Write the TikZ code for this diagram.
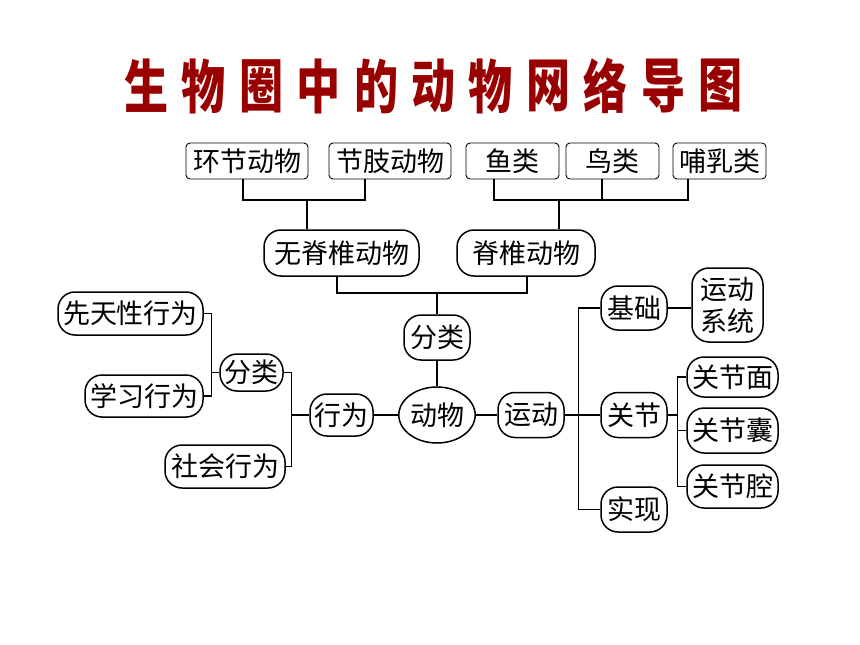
\documentclass[tikz,border=0pt]{standalone}
\usepackage{fontspec}
\usepackage{graphicx}
\setmainfont{Noto Sans CJK SC}
\usetikzlibrary{calc,shapes.geometric}
\definecolor{titlered}{HTML}{990000}

\begin{document}
\begin{tikzpicture}[x=1pt,y=-1pt,
  leaf/.style={draw,line width=0.9pt,rounded corners=4pt,inner sep=0pt,minimum height=36pt,font=\fontsize{27}{30}\selectfont},
  pill/.style={draw,line width=1.5pt,rounded corners=17pt,inner sep=0pt,minimum height=45pt,font=\fontsize{27}{32}\selectfont},
  trunk/.style={line width=2.8pt},
  link/.style={line width=1.4pt},
  titlech/.style={text=titlered,font=\fontsize{58}{58}\selectfont\bfseries,inner sep=0pt}]
  \useasboundingbox (0,0) rectangle (860,645);

  % Title
  \foreach \c [count=\i from 0] in {生,物,圈,中,的,动,物,网,络,导,图}
    \node[titlech] (t\i) at (146.6+57.4*\i,86) {\scalebox{0.76}[1]{\c}};

  % Top row
  \node[leaf,minimum width=122pt] (hj) at (247,161) {环节动物};
  \node[leaf,minimum width=122pt] (jz) at (390,161) {节肢动物};
  \node[leaf,minimum width=93pt] (yl) at (512.5,161) {鱼类};
  \node[leaf,minimum width=93pt] (nl) at (612.5,161) {鸟类};
  \node[leaf,minimum width=93pt] (br) at (719.5,161) {哺乳类};

  \node[pill,minimum width=155pt,minimum height=46pt] (wjz) at (341.5,253) {无脊椎动物};
  \node[pill,minimum width=138pt,minimum height=46pt] (zdw) at (526,253) {脊椎动物};

  % Centre
  \node[pill,minimum width=66pt] (fl) at (437,337.5) {分类};
  \node[draw,ellipse,line width=1.5pt,inner sep=0pt,minimum width=70pt,minimum height=56pt,
        font=\fontsize{27}{32}\selectfont] (dw) at (437,415) {动物};

  % Behaviour
  \node[pill,minimum width=63pt,minimum height=42pt] (xw) at (341.5,415) {行为};
  \node[pill,minimum width=63pt,minimum height=37pt] (fl2) at (251.5,372.5) {分类};
  \node[pill,minimum width=145pt,minimum height=43pt] (xtx) at (130.5,313.5) {先天性行为};
  \node[pill,minimum width=118pt,minimum height=42pt] (xx) at (144,396) {学习行为};
  \node[pill,minimum width=120pt,minimum height=43pt] (sh) at (225,466.5) {社会行为};

  % Movement
  \node[pill,minimum width=66pt] (yd) at (531,415) {运动};
  \node[pill,minimum width=66pt,minimum height=44pt] (jc) at (634,308) {基础};
  \node[pill,minimum width=66pt] (gj) at (634,415) {关节};
  \node[pill,minimum width=66pt] (sx) at (634,509.5) {实现};
  \node[pill,minimum width=71pt,minimum height=74pt,align=center,
        font=\fontsize{27}{32}\selectfont] (ydxt) at (727.5,305) {运动\\系统};
  \node[pill,minimum width=91pt,minimum height=40pt] (gjm) at (732.5,377) {关节面};
  \node[pill,minimum width=91pt] (gjn) at (732.5,430.5) {关节囊};
  \node[pill,minimum width=91pt,minimum height=43pt] (gjq) at (732.5,486.5) {关节腔};

  % Top connectors
  \coordinate (wtop) at (307,200);
  \coordinate (ztop) at (559,200);
  \draw[trunk] ([xshift=-4pt]hj.south) |- (wtop) -| ([xshift=-25pt]jz.south);
  \draw[trunk] (wtop) -- (wtop |- wjz.north);
  \draw[trunk] ([xshift=-18.5pt]yl.south) |- (ztop) -| ([xshift=-31.5pt]br.south);
  \draw[trunk] ([xshift=-10.5pt]nl.south) -- ([xshift=-10.5pt]nl.south |- ztop);
  \draw[trunk] (ztop) -- (ztop |- zdw.north);

  \coordinate (ftop) at (437,293);
  \draw[link] ([xshift=-4.5pt]wjz.south) |- (ftop) -| ([xshift=1pt]zdw.south);
  \draw[link] (ftop) -- (fl.north);
  \draw[trunk] (fl.south) -- (dw.north);

  % Left connectors
  \coordinate (lb) at ($(fl2.west)+(-8,0)$);
  \coordinate (rb) at ($(xw.west)+(-18,0)$);
  \draw[link] (xtx.east) -| (lb) |- (xx.east);
  \draw[link] (lb) -- (fl2.west);
  \draw[link] (fl2.east) -| (rb) |- (sh.east);
  \draw[link] (rb) -- (xw.west);
  \draw[link] (xw.east) -- (dw.west);

  % Right connectors
  \coordinate (mb) at ($(yd.east)+(14,0)$);
  \coordinate (gb) at ($(gj.east)+(10,0)$);
  \draw[link] (dw.east) -- (yd.west);
  \draw[link] (yd.east) -- (gj.west);
  \draw[link] (jc.west) -| (mb) |- (sx.west);
  \draw[link] (jc.east) -- (ydxt.west |- jc.east);
  \draw[link] (gj.east) -- (gb);
  \draw[link] (gjm.west) -| (gb) |- (gjq.west);
  \draw[link] (gb |- gjn.west) -- (gjn.west);
\end{tikzpicture}
\end{document}
